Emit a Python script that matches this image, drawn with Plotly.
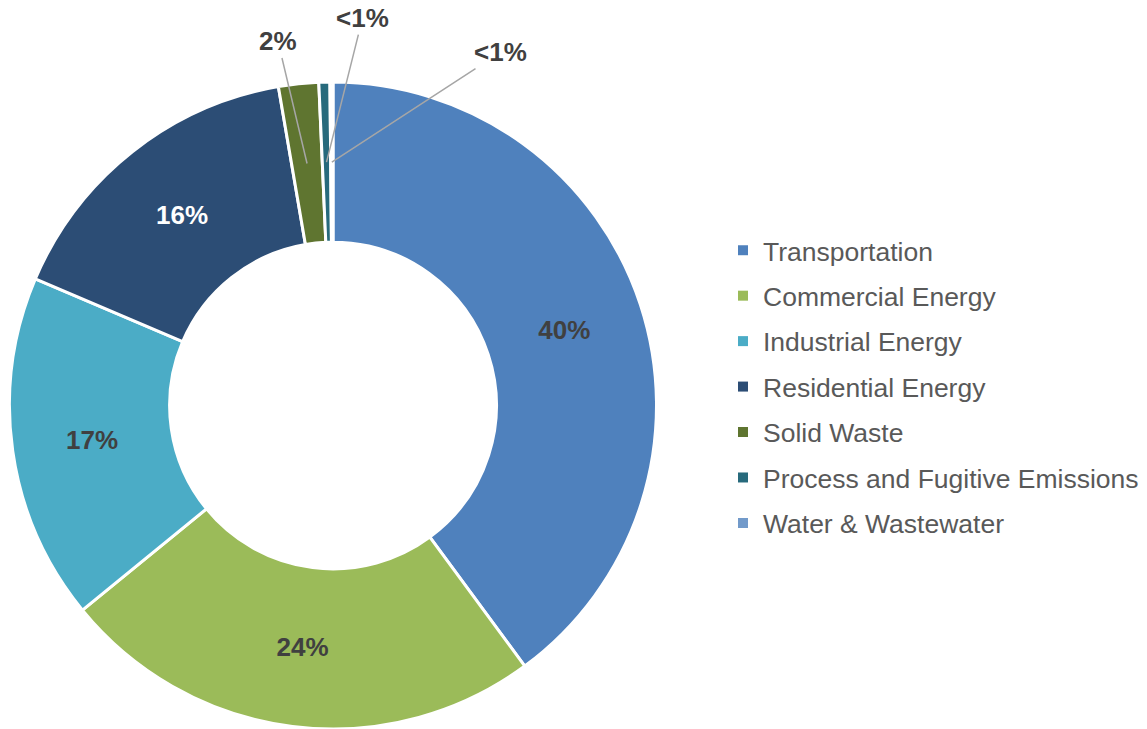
import math
import plotly.graph_objects as go

categories = ["Transportation", "Commercial Energy", "Industrial Energy",
              "Residential Energy", "Solid Waste", "Process and Fugitive Emissions",
              "Water & Wastewater"]
values = [39.9, 24.2, 17.3, 15.9, 2.0, 0.55, 0.15]
colors = ["#4F81BD", "#9BBB59", "#4BACC6", "#2C4D75", "#5F7530", "#276A7C", "#729ACA"]
label_colors = ["#404040", "#404040", "#404040", "#FFFFFF", "#404040", "#404040", "#404040"]

W, H = 1147, 729
FONT = "Liberation Sans, Arial, sans-serif"
LABEL_COLOR = "#404040"

# pie geometry (pixels)
cx, cy, R = 333, 405.5, 323.5
hole = 0.505

small = [v < 3 for v in values]
templates = ["" if s else "%{percent:.0%}" for s in small]

fig = go.Figure()
fig.add_trace(go.Pie(
    labels=categories, values=values, sort=False, direction="clockwise", rotation=0,
    hole=hole, marker=dict(colors=colors, line=dict(color="white", width=3)),
    texttemplate=templates, textposition="inside", insidetextorientation="horizontal",
    textfont=dict(family=FONT, size=26, color=label_colors, weight="bold"),
    showlegend=False, hoverinfo="label+percent",
    domain=dict(x=[max(0, (cx - R) / W), min(1, (cx + R) / W)],
                y=[max(0, (H - cy - R) / H), min(1, (H - cy + R) / H)]),
))

# legend via dummy traces (one group each so spacing can be set)
for i, (c, col) in enumerate(zip(categories, colors)):
    fig.add_trace(go.Scatter(
        x=[None], y=[None], mode="markers", name=c, legendgroup=f"g{i}",
        marker=dict(symbol="square", size=10, color=col), showlegend=True,
    ))

# outside labels for small slices with leader lines
total = sum(values)
offsets = {4: (-29, -122), 5: (36, -144), 6: (169, -110)}
cum = 0.0
rmid = R * (1 + hole) / 2
for i, v in enumerate(values):
    mid = (cum + v / 2) / total * 2 * math.pi
    cum += v
    if not small[i]:
        continue
    px = cx + rmid * math.sin(mid)
    py = cy - rmid * math.cos(mid)
    txt = f"{round(v)}%" if v >= 1 else "&lt;1%"
    ax, ay = offsets[i]
    fig.add_annotation(
        x=px / W, y=1 - py / H, xref="paper", yref="paper", text=txt,
        showarrow=True, arrowhead=0, arrowwidth=1.5, arrowcolor="#A6A6A6",
        ax=ax, ay=ay, standoff=0,
        font=dict(family=FONT, size=26, color=LABEL_COLOR, weight="bold"),
    )

fig.update_layout(
    width=W, height=H, margin=dict(l=0, r=0, t=0, b=0, autoexpand=False),
    paper_bgcolor="white", plot_bgcolor="white",
    xaxis=dict(visible=False), yaxis=dict(visible=False),
    legend=dict(x=723 / W, y=(H - 387) / H, xanchor="left", yanchor="middle",
                font=dict(family=FONT, size=26.5, color="#595959"),
                tracegroupgap=8, traceorder="grouped", bgcolor="rgba(0,0,0,0)"),
    showlegend=True,
)

fig.write_html("out.html", config={"displayModeBar": False},
               post_script="document.body.style.margin='0';")
